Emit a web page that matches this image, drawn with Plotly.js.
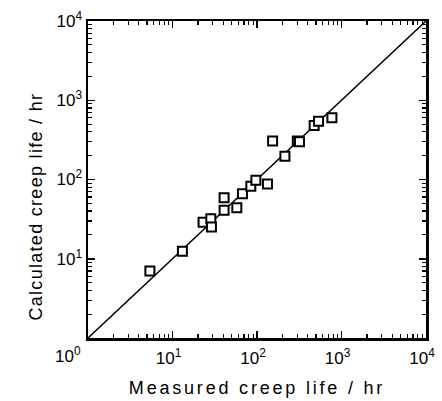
<!DOCTYPE html>
<html>
<head>
<meta charset="utf-8">
<script src="https://cdn.plot.ly/plotly-3.0.1.min.js"></script>
<style>
  html, body { margin: 0; padding: 0; background: #fff; }
  #chart { width: 442px; height: 401px; }
  .xtitle { letter-spacing: 2.8px; }
  .annotation[data-index="1"] .annotation-text { letter-spacing: 1.3px; }
</style>
</head>
<body>
<div id="chart"></div>
<script>
// Data
const measuredLife   = [5.4, 13.1, 23, 28.4, 28.9, 40.8, 40.8, 57.7, 67.3, 84.5, 97, 133, 153, 214, 300, 318, 475, 535, 770];
const calculatedLife = [7.0, 12.4, 28.9, 31.9, 25.2, 41, 58.7, 43.9, 65.9, 82.4, 98, 88, 305, 197, 305, 300, 481, 545, 601];
// Line of equality (calculated = measured) across the axis range
const equalityLine = [1, 10000];
// Tick values and labels
const tickValues = [10, 100, 1000, 10000];
const tickLabels = ['10<sup>1</sup>', '10<sup>2</sup>', '10<sup>3</sup>', '10<sup>4</sup>'];
const cornerLabel = '10<sup>0</sup>';
const decades = [1, 10, 100, 1000];
const minorDigits = [2, 3, 4, 5, 6, 7, 8, 9];
const xTitle = 'Measured creep life / hr';
const yTitle = 'Calculated creep life / hr';

const minorTickVals = [];
decades.forEach(d => minorDigits.forEach(m => minorTickVals.push(d * m)));

const font = 'Liberation Sans, Arial, sans-serif';

const traces = [
  {
    x: equalityLine, y: equalityLine,
    type: 'scatter', mode: 'lines',
    line: { color: '#000', width: 1.5 },
    hoverinfo: 'skip', showlegend: false
  },
  {
    x: measuredLife, y: calculatedLife,
    type: 'scatter', mode: 'markers',
    marker: { symbol: 'square', size: 9, color: '#fff', line: { color: '#000', width: 2 } },
    showlegend: false
  }
];

const axisCommon = {
  type: 'log',
  range: [0, 4],
  tickmode: 'array',
  tickvals: tickValues,
  ticktext: tickLabels,
  ticks: 'inside',
  ticklen: 7,
  tickwidth: 1.5,
  tickcolor: '#000',
  showline: true,
  linewidth: 2.5,
  linecolor: '#000',
  mirror: 'allticks',
  showgrid: false,
  zeroline: false,
  tickfont: { family: font, size: 17, color: '#000' },
  minor: { tickmode: 'array', tickvals: minorTickVals, ticks: 'inside', ticklen: 4, tickwidth: 1.2, tickcolor: '#000', showgrid: false }
};

const layout = {
  width: 442, height: 401,
  margin: { l: 88, r: 16, t: 21, b: 63 },
  paper_bgcolor: '#fff', plot_bgcolor: '#fff',
  showlegend: false,
  xaxis: Object.assign({}, axisCommon, {
    ticklabelshift: -4,
    ticklabelstandoff: 3,
    title: { text: xTitle, font: { family: font, size: 18, color: '#000' }, standoff: 15 }
  }),
  yaxis: Object.assign({}, axisCommon, {
    ticklabelstandoff: 0
  }),
  annotations: [
    {
      text: cornerLabel, xref: 'paper', yref: 'paper', x: 0, y: 0,
      xanchor: 'right', yanchor: 'top', xshift: -5, yshift: -4,
      showarrow: false, font: { family: font, size: 17, color: '#000' }
    },
    {
      text: yTitle, xref: 'paper', yref: 'paper', x: -0.155, y: 0.413,
      xanchor: 'center', yanchor: 'middle', textangle: -90,
      showarrow: false, font: { family: font, size: 18, color: '#000' }
    }
  ]
};

Plotly.newPlot('chart', traces, layout, { staticPlot: true, displayModeBar: false });
</script>
</body>
</html>
